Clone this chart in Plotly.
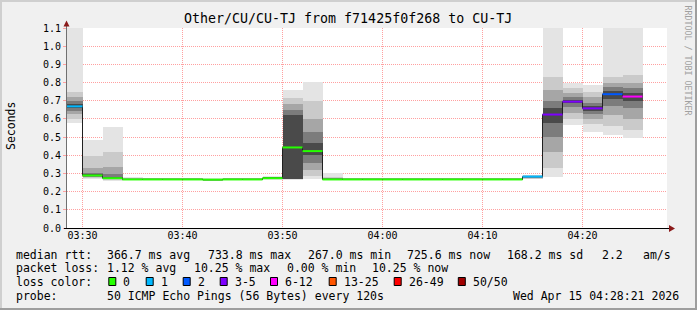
import pandas as pd
import plotly.graph_objects as go

DAY = "2026-04-15"

# ---- data ----
bin_end = ["03:30", "03:32", "03:34", "03:36", "03:38", "03:40", "03:42", "03:44", "03:46", "03:48",
           "03:50", "03:52", "03:54", "03:56", "03:58", "04:00", "04:02", "04:04", "04:06", "04:08",
           "04:10", "04:12", "04:14", "04:16", "04:18", "04:20", "04:22", "04:24", "04:26"]
median = [0.669, 0.289, 0.274, 0.267, 0.267, 0.267, 0.267, 0.266, 0.267, 0.267,
          0.274, 0.443, 0.423, 0.267, 0.267, 0.267, 0.267, 0.267, 0.267, 0.267,
          0.267, 0.267, 0.267, 0.283, 0.624, 0.695, 0.658, 0.736, 0.723]
loss = ["1", "0", "0", "0", "0", "0", "0", "0", "0", "0",
        "0", "0", "0", "0", "0", "0", "0", "0", "0", "0",
        "0", "0", "0", "1", "3-5", "3-5", "3-5", "2", "6-12"]

# smoke: sorted ping rtt quantiles per interval (seconds)
q00 = [0.575, 0.268, 0.258, 0.262, 0.262, 0.262, 0.262, 0.256, 0.262, 0.262,
       0.266, 0.266, 0.268, 0.262, 0.262, 0.262, 0.262, 0.262, 0.262, 0.262,
       0.262, 0.262, 0.262, 0.268, 0.283, 0.566, 0.530, 0.512, 0.497]
q10 = [0.600, 0.274, 0.264, 0.264, 0.264, 0.264, 0.264, 0.260, 0.264, 0.264,
       0.268, 0.268, 0.285, 0.264, 0.264, 0.264, 0.264, 0.264, 0.264, 0.264,
       0.264, 0.264, 0.264, 0.272, 0.330, 0.600, 0.570, 0.560, 0.540]
q20 = [0.625, 0.279, 0.268, 0.265, 0.265, 0.265, 0.265, 0.263, 0.265, 0.265,
       0.270, 0.269, 0.320, 0.265, 0.265, 0.265, 0.265, 0.265, 0.265, 0.265,
       0.265, 0.265, 0.265, 0.275, 0.420, 0.635, 0.600, 0.620, 0.600]
q30 = [0.645, 0.283, 0.271, 0.266, 0.266, 0.266, 0.266, 0.264, 0.266, 0.266,
       0.271, 0.270, 0.360, 0.266, 0.266, 0.266, 0.266, 0.266, 0.266, 0.266,
       0.266, 0.266, 0.266, 0.278, 0.500, 0.665, 0.625, 0.670, 0.660]
q40 = [0.660, 0.286, 0.273, 0.266, 0.266, 0.266, 0.266, 0.265, 0.266, 0.266,
       0.272, 0.272, 0.400, 0.266, 0.266, 0.266, 0.266, 0.266, 0.266, 0.266,
       0.266, 0.266, 0.266, 0.281, 0.580, 0.685, 0.645, 0.710, 0.700]
q60 = [0.680, 0.294, 0.280, 0.268, 0.268, 0.268, 0.268, 0.267, 0.268, 0.268,
       0.276, 0.620, 0.470, 0.268, 0.268, 0.268, 0.268, 0.268, 0.268, 0.268,
       0.268, 0.268, 0.268, 0.285, 0.660, 0.705, 0.670, 0.755, 0.745]
q70 = [0.700, 0.305, 0.295, 0.269, 0.269, 0.269, 0.269, 0.268, 0.269, 0.269,
       0.278, 0.650, 0.530, 0.270, 0.269, 0.269, 0.269, 0.269, 0.269, 0.269,
       0.269, 0.269, 0.269, 0.286, 0.700, 0.720, 0.690, 0.775, 0.770]
q80 = [0.720, 0.330, 0.335, 0.271, 0.270, 0.270, 0.270, 0.269, 0.270, 0.270,
       0.280, 0.680, 0.600, 0.274, 0.270, 0.270, 0.270, 0.270, 0.270, 0.270,
       0.270, 0.270, 0.270, 0.287, 0.760, 0.740, 0.720, 0.800, 0.800]
q90 = [0.750, 0.395, 0.420, 0.274, 0.272, 0.272, 0.272, 0.271, 0.272, 0.272,
       0.282, 0.715, 0.700, 0.283, 0.272, 0.272, 0.272, 0.272, 0.272, 0.272,
       0.272, 0.272, 0.272, 0.289, 0.830, 0.770, 0.750, 0.830, 0.840]
q100 = [1.300, 0.482, 0.553, 0.283, 0.276, 0.276, 0.276, 0.275, 0.276, 0.277,
        0.286, 0.757, 0.805, 0.300, 0.276, 0.276, 0.276, 0.276, 0.276, 0.276,
        0.276, 0.276, 0.276, 0.292, 1.300, 0.800, 0.787, 1.300, 1.300]

loss_labels = ["0", "1", "2", "3-5", "6-12", "13-25", "26-49", "50/50"]
loss_colors = ["#26ff00", "#00b8ff", "#0059ff", "#7e00ff", "#ff00ff", "#ff5500", "#ff0000", "#a10000"]

title = "Other/CU/CU-TJ from f71425f0f268 to CU-TJ"
rtt_stats = ["366.7 ms avg", "733.8 ms max", "267.0 ms min", "725.6 ms now", "168.2 ms sd", "2.2", "am/s"]
loss_stats = ["1.12 % avg", "10.25 % max", "0.00 % min", "10.25 % now"]
probe_text = "50 ICMP Echo Pings (56 Bytes) every 120s"
stamp = "Wed Apr 15 04:28:21 2026"

# ---- figure ----
MONO = "DejaVu Sans Mono"
X_RANGE = [f"{DAY} 03:28:27", f"{DAY} 04:28:27"]
ends = pd.to_datetime([f"{DAY} {t}" for t in bin_end])
starts = ends - pd.Timedelta(minutes=2)
centers = ends - pd.Timedelta(minutes=1)

fig = go.Figure()

bands = [(q00, q100, "#e4e4e4"), (q10, q90, "#cacaca"), (q20, q80, "#a6a6a6"),
         (q30, q70, "#7c7c7c"), (q40, q60, "#4a4a4a")]
for lo, hi, col in bands:
    fig.add_trace(go.Bar(x=centers, base=lo, y=[h - l for h, l in zip(hi, lo)],
                         width=120000, marker=dict(color=col, line=dict(width=0)),
                         hoverinfo="skip"))

# thin dark median step line
fig.add_trace(go.Scatter(x=list(starts) + [ends[-1]], y=median + [median[-1]],
                         mode="lines", line=dict(color="#202020", width=1, shape="hv"),
                         hoverinfo="skip"))

# coloured median segments by loss
for lab, col in zip(loss_labels, loss_colors):
    xs, ys = [], []
    for s, e, m, l in zip(starts, ends, median, loss):
        if l == lab:
            xs += [s, e, None]
            ys += [m, m, None]
    if xs:
        fig.add_trace(go.Scatter(x=xs, y=ys, mode="lines",
                                 line=dict(color=col, width=2), hoverinfo="skip"))

# minor (2-minute) grid positions that are not on a 10-minute major line
minor_pos = [t for t in pd.date_range(f"{DAY} 03:22", f"{DAY} 04:30", freq="2min") if t.minute % 10 != 0]

L, R, T, B = 67, 667, 28, 228


def px(x):
    return (x - L) / (R - L)


def py(y):
    return (B - y) / (B - T)


def txt(s, x, y, size=11.5, anchor="left", color="#000000", angle=0):
    return dict(text=s, x=px(x), y=py(y), xref="paper", yref="paper", xanchor=anchor,
                yanchor="middle", showarrow=False, borderpad=0, borderwidth=0,
                textangle=angle, font=dict(family=MONO, size=size, color=color))


ann = [
    txt(title, 347.7, 18.5, size=13.3, anchor="center"),
    txt("Seconds", 10.5, 126.5, size=11.5, anchor="center", angle=-90),
    txt("RRDTOOL / TOBI OETIKER", 687.5, 60, size=8.3, anchor="center", color="#a0a0a0", angle=90),
]

row1 = 254.5
row2 = 268.3
row3 = 282.3
row4 = 296
ann.append(txt("median rtt:", 16, row1))
for s, x in zip(rtt_stats, [107.4, 208.3, 307.8, 407.0, 507.0, 602.4, 643.4]):
    ann.append(txt(s, x, row1))
ann.append(txt("packet loss:", 16, row2))
for s, x in zip(loss_stats, [107.4, 194.0, 286.5, 372.4]):
    ann.append(txt(s, x, row2))
ann.append(txt("loss color:", 16, row3))
sq_x = [108.3, 145.7, 182.7, 219.7, 270.0, 328.7, 393.7, 457.8]
shapes = []
for lab, col, x in zip(loss_labels, loss_colors, sq_x):
    shapes.append(dict(type="rect", xref="paper", yref="paper",
                       x0=px(x + 0.5), x1=px(x + 7.5), y0=py(277.5), y1=py(285.5),
                       fillcolor=col, line=dict(color="#000000", width=1)))
    ann.append(txt(lab, x + 14.8, row3))
ann.append(txt("probe:", 16, row4))
ann.append(txt(probe_text, 107.4, row4))
ann.append(txt(stamp, 513.3, row4))

# frame shading (rrdtool style)
shapes += [
    dict(type="rect", xref="paper", yref="paper", x0=px(0), x1=px(697), y0=py(0), y1=py(2),
         fillcolor="#cfcfcf", line=dict(width=0), layer="above"),
    dict(type="rect", xref="paper", yref="paper", x0=px(0), x1=px(2), y0=py(0), y1=py(310),
         fillcolor="#cfcfcf", line=dict(width=0), layer="above"),
    dict(type="rect", xref="paper", yref="paper", x0=px(0), x1=px(697), y0=py(308), y1=py(310),
         fillcolor="#9e9e9e", line=dict(width=0), layer="above"),
    dict(type="rect", xref="paper", yref="paper", x0=px(695), x1=px(697), y0=py(0), y1=py(310),
         fillcolor="#9e9e9e", line=dict(width=0), layer="above"),
    # axes with arrows
    dict(type="line", xref="paper", yref="paper", x0=px(66.5), x1=px(66.5), y0=py(229), y1=py(26),
         line=dict(color="#707070", width=1)),
    dict(type="path", xref="paper", yref="paper",
         path=f"M {px(63.5)} {py(26.5)} L {px(69.5)} {py(26.5)} L {px(66.5)} {py(20.5)} Z",
         fillcolor="#8b1a1a", line=dict(width=0)),
    dict(type="line", xref="paper", yref="paper", x0=px(64), x1=px(670), y0=py(228.5), y1=py(228.5),
         line=dict(color="#000000", width=1)),
    dict(type="path", xref="paper", yref="paper",
         path=f"M {px(669)} {py(225)} L {px(669)} {py(232)} L {px(675)} {py(228.5)} Z",
         fillcolor="#8b1a1a", line=dict(width=0)),
]

fig.update_layout(
    width=697, height=310,
    margin=dict(l=L, r=697 - R, t=T, b=310 - B),
    paper_bgcolor="#f0f0f0", plot_bgcolor="#ffffff",
    showlegend=False, barmode="overlay", bargap=0,
    font=dict(family=MONO, size=10, color="#000000"),
    annotations=ann, shapes=shapes,
    xaxis=dict(type="date", range=X_RANGE,
               tickformat="%H:%M", dtick=600000, tick0=f"{DAY} 03:30:00",
               showgrid=True, gridcolor="#ffa0a0", griddash="1px,1px", gridwidth=1,
               showline=False, zeroline=False, ticks="",
               tickfont=dict(family=MONO, size=10, color="#000000")),
    xaxis2=dict(type="date", range=X_RANGE, overlaying="x", side="bottom",
                tickmode="array", tickvals=minor_pos, showticklabels=False,
                showgrid=True, gridcolor="#d4d4d4", griddash="1px,1px", gridwidth=1,
                showline=False, zeroline=False, ticks="outside", ticklen=2, tickcolor="#d4d4d4"),
    yaxis=dict(range=[0, 1.1], dtick=0.1, tick0=0, tickformat=".1f",
               showgrid=True, gridcolor="#ffa0a0", griddash="1px,1px", gridwidth=1,
               showline=False, zeroline=False, ticks="outside", ticklen=3, tickcolor="#ffa0a0",
               tickfont=dict(family=MONO, size=10, color="#000000")),
)

fig.write_html("out.html")
